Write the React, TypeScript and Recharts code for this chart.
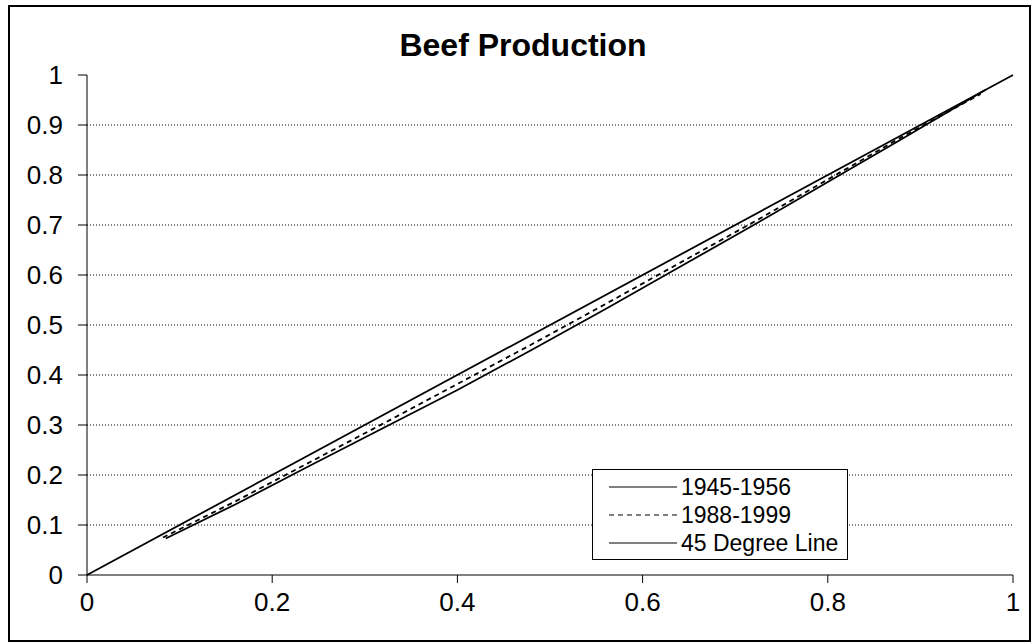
import { LineChart, Line, XAxis, YAxis, CartesianGrid } from 'recharts';

// share of cumulative output, early period
const early_x = [0.085, 0.16, 0.24, 0.32, 0.4, 0.48, 0.56, 0.64, 0.72, 0.8, 0.88, 0.97];
const early_y = [0.073, 0.141, 0.218, 0.294, 0.37, 0.45, 0.532, 0.616, 0.7, 0.786, 0.872, 0.97];

// share of cumulative output, late period
const late_x = [0.082, 0.16, 0.24, 0.32, 0.4, 0.48, 0.56, 0.64, 0.72, 0.8, 0.88, 0.965];
const late_y = [0.075, 0.147, 0.225, 0.303, 0.382, 0.461, 0.542, 0.624, 0.706, 0.791, 0.876, 0.962];

const diag_x = [0, 1];
const diag_y = [0, 1];

const seriesNames = ['1945-1956', '1988-1999', '45 Degree Line'];
const seriesDash = ['', '5 4', ''];

const xTicks = [0, 0.2, 0.4, 0.6, 0.8, 1];
const yTicks = [0, 0.1, 0.2, 0.3, 0.4, 0.5, 0.6, 0.7, 0.8, 0.9, 1];
const gridValues = [0.1, 0.2, 0.3, 0.4, 0.5, 0.6, 0.7, 0.8, 0.9];

const toPoints = (xs: number[], ys: number[]) => xs.map((x, i) => ({ x, y: ys[i] }));

const font = '"Liberation Sans", Arial, sans-serif';

export default function App() {
  const early = toPoints(early_x, early_y);
  const late = toPoints(late_x, late_y);
  const diag = toPoints(diag_x, diag_y);

  return (
    <div style={{ position: 'absolute', left: 0, top: 0, width: 1036, height: 644, background: '#fff', fontFamily: font }}>
      <div style={{ position: 'absolute', left: 8, top: 5, width: 1019, height: 633, border: '2px solid #000' }} />
      <div style={{ position: 'absolute', left: 0, width: 1046, top: 27, textAlign: 'center', fontSize: 32, fontWeight: 'bold' }}>
        Beef Production
      </div>
      <div style={{ position: 'absolute', left: 0, top: 0 }}>
        <LineChart width={1036} height={644} margin={{ top: 75, right: 23, bottom: 39, left: 27 }}>
          <CartesianGrid vertical={false} horizontalValues={gridValues} stroke="#000" strokeDasharray="1 2" />
          <XAxis
            type="number"
            dataKey="x"
            domain={[0, 1]}
            ticks={xTicks}
            height={30}
            tickSize={8}
            tickMargin={10}
            stroke="#000"
            tick={{ fill: '#000', fontSize: 26, fontFamily: font }}
            tickFormatter={(v) => String(v)}
          />
          <YAxis
            type="number"
            dataKey="y"
            domain={[0, 1]}
            ticks={yTicks}
            width={60}
            tickSize={9}
            tickMargin={15}
            stroke="#000"
            tick={{ fill: '#000', fontSize: 26, fontFamily: font }}
            tickFormatter={(v) => String(v)}
          />
          <Line data={diag} dataKey="y" type="linear" stroke="#000" strokeWidth={1.8} dot={false} isAnimationActive={false} />
          <Line data={early} dataKey="y" type="linear" stroke="#000" strokeWidth={1.8} dot={false} isAnimationActive={false} />
          <Line data={late} dataKey="y" type="linear" stroke="#000" strokeWidth={1.8} strokeDasharray="5 4" dot={false} isAnimationActive={false} />
        </LineChart>
      </div>
      <div
        style={{
          position: 'absolute',
          left: 592,
          top: 469,
          width: 256,
          height: 91,
          border: '1px solid #000',
          background: '#fff',
          boxSizing: 'border-box',
          paddingTop: 3,
        }}
      >
        {seriesNames.map((name, i) => (
          <div key={name} style={{ display: 'flex', alignItems: 'center', height: 28, fontSize: 23 }}>
            <svg width={86} height={10} style={{ marginLeft: 2 }}>
              <line x1={14} y1={5} x2={82} y2={5} stroke="#000" strokeWidth={1.2} strokeDasharray={seriesDash[i] || undefined} />
            </svg>
            <span>{name}</span>
          </div>
        ))}
      </div>
    </div>
  );
}
